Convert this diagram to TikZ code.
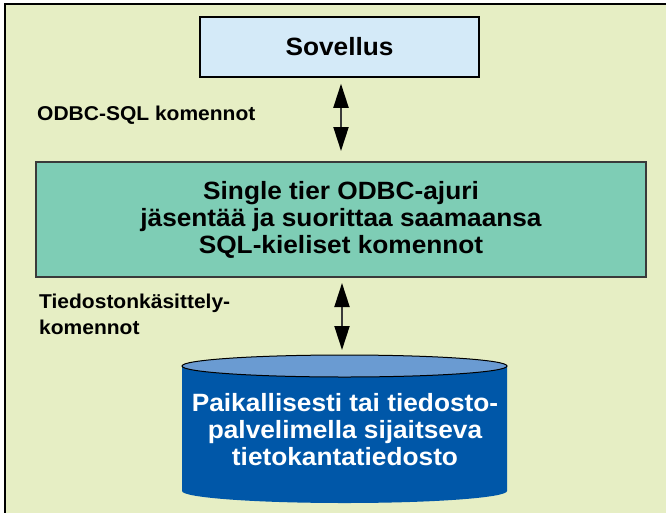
\documentclass[tikz,border=0pt]{standalone}
\usepackage{fontspec}
\setmainfont{Liberation Sans}[FakeStretch=1.05]
\usetikzlibrary{arrows.meta}
\definecolor{bgc}{HTML}{E6EEC4}
\definecolor{sovc}{HTML}{D4EAF8}
\definecolor{tealc}{HTML}{7ECDB5}
\definecolor{cylbody}{HTML}{0057A8}
\definecolor{cyltop}{HTML}{6A9BD2}
\definecolor{linec}{HTML}{3A3A3A}
\tikzset{
  boxtext/.style={font=\bfseries\fontsize{25}{27}\selectfont, align=center, text=black},
  labeltext/.style={font=\bfseries\fontsize{20}{26}\selectfont, align=left, text=black, inner sep=0pt},
  dbl/.style={draw=linec, line width=2pt, {Triangle[width=15pt,length=24pt,color=black]}-{Triangle[width=15pt,length=24pt,color=black]}},
}
\begin{document}
\begin{tikzpicture}[x=1pt,y=-1pt]
\useasboundingbox (0,0) rectangle (666,512);
\fill[white] (0,0) rectangle (666,512);
\fill[bgc] (5,4) rectangle (670,516);
\draw[black, line width=2pt] (5,516) -- (5,4) -- (670,4);
% Sovellus
\node[draw=black, line width=1.5pt, fill=sovc, minimum width=279pt, minimum height=60pt, inner sep=0pt, boxtext] (sov) at (339.5,47) {Sovellus};
% driver box
\node[draw=linec, line width=2pt, fill=tealc, minimum width=610pt, minimum height=115pt, inner sep=0pt, boxtext] (drv) at (341,219.5) {Single tier ODBC-ajuri\\jäsentää ja suorittaa saamaansa\\SQL-kieliset komennot};
% cylinder
\fill[cylbody] (182,366) -- (182,491) arc[start angle=180, end angle=360, x radius=162.5pt, y radius=12pt] -- (507,366) -- cycle;
\draw[black, line width=1pt, fill=cyltop] (344.5,366) ellipse [x radius=162.5pt, y radius=11pt];
\node[boxtext, text=white, inner sep=0pt] (db) at (345,430) {Paikallisesti tai tiedosto-\\palvelimella sijaitseva\\tietokantatiedosto};
% labels
\node[labeltext, anchor=west] (l1) at (37,115) {ODBC-SQL komennot};
\node[labeltext, anchor=north west] (l2) at (39,294) {Tiedostonkäsittely-\\komennot};
% arrows
\coordinate (ax1) at (341,0);
\coordinate (ax2) at (342,0);
\coordinate (cyltopc) at (342,355);
\draw[dbl, shorten <=6pt, shorten >=10pt] (sov.south -| ax1) -- (drv.north -| ax1);
\draw[dbl, shorten <=5pt, shorten >=5pt] (drv.south -| ax2) -- (cyltopc);
\end{tikzpicture}
\end{document}
